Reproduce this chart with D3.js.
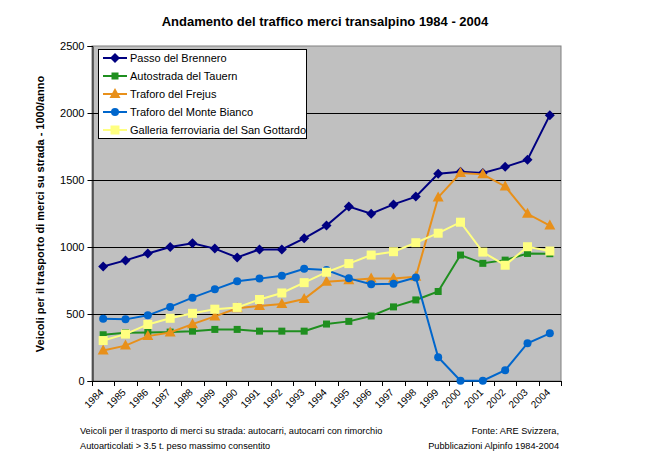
<!DOCTYPE html>
<html><head><meta charset="utf-8">
<script src="https://cdn.jsdelivr.net/npm/d3@7"></script>
<style>body{margin:0;background:#fff}svg{display:block}text{font-family:"Liberation Sans",Arial,sans-serif}</style>
</head><body><svg id="c" width="650" height="457"></svg>
<script>
const years = ["1984","1985","1986","1987","1988","1989","1990","1991","1992","1993","1994","1995","1996","1997","1998","1999","2000","2001","2002","2003","2004"];
const brennero = [855,900,952,1000,1028,988,922,982,982,1065,1160,1302,1248,1318,1376,1547,1562,1552,1598,1651,1984];
const tauern = [345,360,362,365,372,385,385,372,372,372,425,445,485,553,605,668,940,878,902,952,950];
const frejus = [228,264,335,362,424,482,543,560,575,612,740,752,765,765,778,1370,1552,1542,1452,1248,1160];
const bianco = [465,460,490,553,622,684,744,764,786,838,828,766,722,726,773,178,2,2,80,282,356];
const gottardo = [302,350,422,468,505,536,549,608,657,734,812,876,940,965,1032,1103,1185,962,864,1002,970];
const yTicks = [0,500,1000,1500,2000,2500];
const seriesNames = ["Passo del Brennero","Autostrada del Tauern","Traforo del Frejus","Traforo del Monte Bianco","Galleria ferroviaria del San Gottardo"];

const series = [
  {name:seriesNames[0], values:brennero, color:"#000080", shape:"diamond"},
  {name:seriesNames[1], values:tauern, color:"#1f8f1f", shape:"square"},
  {name:seriesNames[2], values:frejus, color:"#e8901a", shape:"triangle"},
  {name:seriesNames[3], values:bianco, color:"#0066cc", shape:"circle"},
  {name:seriesNames[4], values:gottardo, color:"#ffff80", shape:"bigsquare"}
];

const svg = d3.select("#c");
const L=92, R=561, T=46, B=381;
const x = d3.scaleBand().domain(years).range([L,R]);
const y = d3.scaleLinear().domain([0,2500]).range([B,T]);

svg.append("rect").attr("x",L).attr("y",T).attr("width",R-L).attr("height",B-T)
  .attr("fill","#c0c0c0").attr("stroke","#808080").attr("stroke-width",1);

// gridlines
svg.append("g").selectAll("line").data(yTicks.filter(d=>d>0 && d<2500)).join("line")
  .attr("x1",L).attr("x2",R).attr("y1",d=>Math.round(y(d))+0.5).attr("y2",d=>Math.round(y(d))+0.5)
  .attr("stroke","#000").attr("stroke-width",1);

// y axis
const ya = svg.append("g").attr("transform",`translate(${L+0.5},0)`)
  .call(d3.axisLeft(y).tickValues(yTicks).tickSize(5).tickPadding(3).tickFormat(d3.format("d")));
ya.select(".domain").attr("stroke","#000");
ya.selectAll("text").attr("font-size",11).attr("fill","#000");

// x axis
const xa = svg.append("g").attr("transform",`translate(0,${B+0.5})`)
  .call(d3.axisBottom(x).tickSize(0).tickFormat(""));
xa.select(".domain").attr("stroke","#000").attr("d",`M${L},0H${R}`);
svg.append("g").selectAll("line").data(d3.range(years.length+1)).join("line")
  .attr("x1",i=>Math.round(L+i*x.step())+0.5).attr("x2",i=>Math.round(L+i*x.step())+0.5)
  .attr("y1",B).attr("y2",B+5).attr("stroke","#000");
svg.append("g").selectAll("text").data(years).join("text")
  .attr("transform",d=>`translate(${x(d)+x.bandwidth()/2+1},${B+12}) rotate(-45)`)
  .attr("text-anchor","end").attr("font-size",10).text(d=>d);

const line = d3.line().x((d,i)=>x(years[i])+x.bandwidth()/2).y(d=>y(d));

function marker(g, shape, color){
  if(shape==="diamond") g.append("path").attr("d","M0,-5L5,0L0,5L-5,0Z").attr("fill",color);
  else if(shape==="square") g.append("rect").attr("x",-3.5).attr("y",-3.5).attr("width",7).attr("height",7).attr("fill",color);
  else if(shape==="bigsquare") g.append("rect").attr("x",-4.5).attr("y",-4.5).attr("width",9).attr("height",9).attr("fill",color);
  else if(shape==="triangle") g.append("path").attr("d","M0,-6L5.5,4L-5.5,4Z").attr("fill",color);
  else if(shape==="circle") g.append("circle").attr("r",4).attr("fill",color);
}

series.forEach(s=>{
  svg.append("path").attr("d",line(s.values)).attr("fill","none").attr("stroke",s.color).attr("stroke-width",2);
  s.values.forEach((v,i)=>{
    const g = svg.append("g").attr("transform",`translate(${x(years[i])+x.bandwidth()/2},${y(v)})`);
    marker(g,s.shape,s.color);
  });
});

// legend
const lg = svg.append("g");
lg.append("rect").attr("x",98.5).attr("y",49.5).attr("width",208).attr("height",89).attr("fill","#fff").attr("stroke","#000");
series.forEach((s,i)=>{
  const yy = 58 + i*18;
  lg.append("line").attr("x1",103).attr("x2",127).attr("y1",yy).attr("y2",yy).attr("stroke",s.color).attr("stroke-width",2);
  const g = lg.append("g").attr("transform",`translate(115,${yy})`);
  marker(g,s.shape,s.color);
  lg.append("text").attr("x",130).attr("y",yy+4).attr("font-size",11).text(s.name);
});

// title
svg.append("text").attr("x",325).attr("y",26).attr("text-anchor","middle").attr("font-size",13).attr("font-weight","bold")
  .text("Andamento del traffico merci transalpino 1984 - 2004");
// y label
svg.append("text").attr("transform","translate(44,214) rotate(-90)").attr("text-anchor","middle")
  .attr("font-size",11).attr("font-weight","bold").text("Veicoli per il trasporto di merci su strada - 1000/anno");
// footnotes
svg.append("text").attr("x",80).attr("y",434).attr("font-size",9.2).text("Veicoli per il trasporto di merci su strada: autocarri, autocarri con rimorchio");
svg.append("text").attr("x",80).attr("y",449).attr("font-size",9.2).text("Autoarticolati > 3.5 t. peso massimo consentito");
svg.append("text").attr("x",559).attr("y",434).attr("text-anchor","end").attr("font-size",9.2).text("Fonte: ARE Svizzera,");
svg.append("text").attr("x",559).attr("y",449).attr("text-anchor","end").attr("font-size",9.2).text("Pubblicazioni Alpinfo 1984-2004");
</script></body></html>
